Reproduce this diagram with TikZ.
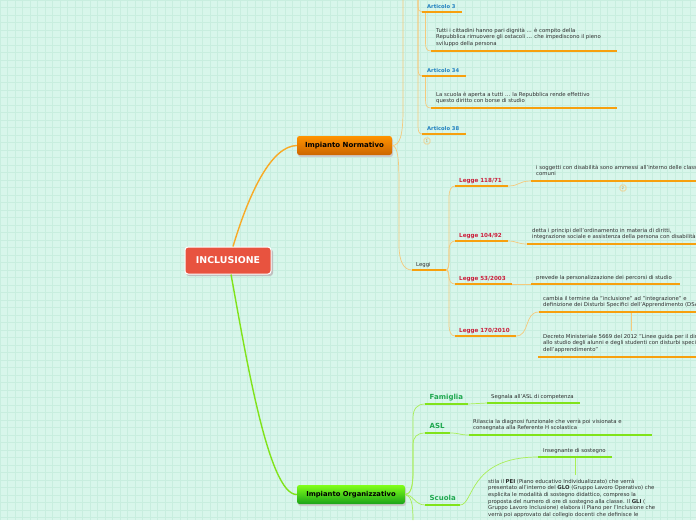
\documentclass[tikz,border=0pt]{standalone}
\usepackage{fontspec}
\setmainfont{DejaVu Sans}
\begin{document}
\begin{tikzpicture}[x=1pt,y=-1pt,
  txt/.style={inner sep=0pt,font=\fontsize{5.35}{6.6}\selectfont,text=black!82,align=left},
  art/.style={inner sep=0pt,font=\fontsize{5.2}{5}\selectfont\bfseries,text=artblue,anchor=base west},
  leg/.style={inner sep=0pt,font=\fontsize{5.6}{5}\selectfont\bfseries,text=legred,anchor=base west},
  org/.style={inner sep=0pt,font=\fontsize{7}{7}\selectfont\bfseries,text=orggreen,anchor=base west},
  uo/.style={line width=2pt,draw=uline},
  ug/.style={line width=2pt,draw=gline},
  co/.style={line width=0.7pt,draw=oconn},
  cg/.style={line width=0.7pt,draw=gconn},
  badge/.style={draw=oconn,line width=0.6pt,rounded corners=1.5pt,minimum width=6pt,minimum height=6pt,inner sep=0pt,font=\fontsize{4}{4}\selectfont,text=oconn!80!black}
]
\definecolor{bgc}{HTML}{D8F6EB}
\definecolor{gridc}{HTML}{C8EEDF}
\definecolor{artblue}{HTML}{1F7FC0}
\definecolor{legred}{HTML}{CC1F3C}
\definecolor{orggreen}{HTML}{1FA84F}
\definecolor{uline}{HTML}{F7A00E}
\definecolor{gline}{HTML}{80E31A}
\definecolor{oconn}{HTML}{F5C97C}
\definecolor{gconn}{HTML}{A8EE55}
\definecolor{redbox}{HTML}{E8533F}
\useasboundingbox (0,0) rectangle (696,520);
\clip (0,0) rectangle (696,520);
\fill[bgc] (0,0) rectangle (696,520);
\foreach \i in {0,7.5,...,696} {\draw[gridc,line width=0.3pt] (\i,0) -- (\i,520);}
\foreach \j in {0,7.5,...,520} {\draw[gridc,line width=0.3pt] (0,\j) -- (696,\j);}

% ---- main boxes
\fill[black!25,rounded corners=3pt] (186,249) rectangle (273,276);
\node[draw=white,line width=1pt,fill=redbox,rounded corners=3pt,minimum width=86pt,minimum height=27pt,inner sep=0pt,text=white,font=\fontsize{9.4}{10}\selectfont\bfseries] (root) at (228,260.5) {INCLUSIONE};

\fill[black!20,rounded corners=2.5pt] (298,138) rectangle (393,157);
\node[rounded corners=2.5pt,top color=orange!85!yellow,bottom color=orange!80!black,minimum width=95pt,minimum height=19pt,inner sep=0pt,font=\fontsize{7}{7}\selectfont\bfseries] (norm) at (344.5,145.5) {Impianto Normativo};

\fill[black!20,rounded corners=2.5pt] (298,487) rectangle (406,506);
\node[rounded corners=2.5pt,top color=green!55!yellow!90!white,bottom color=green!60!black!90,minimum width=108pt,minimum height=19pt,inner sep=0pt,font=\fontsize{6.8}{7}\selectfont\bfseries] (orgz) at (351,494.5) {Impianto Organizzativo};

\draw[line width=1.4pt,draw=uline!90] (root.north) ++(5,0) coordinate (rt) .. controls (250,190) and (272,146) .. (norm.west);
\draw[line width=1.4pt,draw=gline] (root.south) ++(3,0) coordinate (rb) .. controls (245,350) and (268,495) .. (orgz.west);

% ---- Normativo subtree
\coordinate (nE) at (norm.east);
\coordinate (topA) at (403,0);
\coordinate (topB) at (418,0);
\draw[co] (nE) .. controls (400,145.5) and (403,135) .. (403,110) -- (topA);

% Articoli
\coordinate (a3L) at (422,12); \coordinate (a3R) at (462,12);
\coordinate (a34L) at (422,76); \coordinate (a34R) at (466,76);
\coordinate (a38L) at (422,134); \coordinate (a38R) at (466,134);
\draw[co] (topB) -- (418,5) .. controls (418,10) and (419,12) .. (a3L);
\draw[co] (topB) -- (418,68) .. controls (418,73) and (419,76) .. (a34L);
\draw[co] (topB) -- (418,126) .. controls (418,131) and (419,134) .. (a38L);
\node[art] (a3) at (427,8) {Articolo 3};
\node[art] (a34) at (427,72) {Articolo 34};
\node[art] (a38) at (427,130) {Articolo 38};
\draw[uo] (a3L) -- (a3R);
\draw[uo] (a34L) -- (a34R);
\draw[uo] (a38L) -- (a38R);
\node[badge] (b1) at (427,141) {1};

\coordinate (c1L) at (431,51); \coordinate (c1R) at (617,51);
\coordinate (c2L) at (431,108); \coordinate (c2R) at (617,108);
\draw[co] (425.5,13) coordinate (a3d) -- (425.5,43) .. controls (425.5,49) and (427,51) .. (c1L);
\draw[co] (425.5,77) coordinate (a34d) -- (425.5,100) .. controls (425.5,106) and (427,108) .. (c2L);
\node[txt,anchor=north west] (c1) at (436,27.6) {Tutti i cittadini hanno pari dignità ... è compito della\\Repubblica rimuovere gli ostacoli ... che impediscono il pieno\\sviluppo della persona};
\node[txt,anchor=north west] (c2) at (436,91.6) {La scuola è aperta a tutti ... la Repubblica rende effettivo\\questo diritto con borse di studio};
\draw[uo] (c1L) -- (c1R);
\draw[uo] (c2L) -- (c2R);

% Leggi
\coordinate (lgL) at (412,270); \coordinate (lgR) at (446,270);
\draw[co] (nE) .. controls (398,146) and (399,160) .. (399,185) -- (399,245) .. controls (399,262) and (404,270) .. (lgL);
\node[txt,anchor=base west] (leggi) at (416,266) {Leggi};
\draw[uo] (lgL) -- (lgR);

\coordinate (l1L) at (455,186); \coordinate (l1R) at (508,186);
\coordinate (l2L) at (455,241); \coordinate (l2R) at (508,241);
\coordinate (l3L) at (455,284); \coordinate (l3R) at (512,284);
\coordinate (l4L) at (455,336); \coordinate (l4R) at (516,336);
\draw[co] (lgR) .. controls (449,270) and (449,264) .. (449,255) -- (449,198) .. controls (449,190) and (451,186) .. (l1L);
\draw[co] (lgR) .. controls (449,270) and (449,262) .. (449,258) -- (449,250) .. controls (449,245) and (451,241) .. (l2L);
\draw[co] (lgR) .. controls (449,270) and (449,274) .. (449,276) .. controls (449,281) and (451,284) .. (l3L);
\draw[co] (lgR) .. controls (449,270) and (449,278) .. (449,285) -- (449,324) .. controls (449,332) and (451,336) .. (l4L);
\node[leg] (l1) at (459,182.5) {Legge 118/71};
\node[leg] (l2) at (459,237.5) {Legge 104/92};
\node[leg] (l3) at (459,280.5) {Legge 53/2003};
\node[leg] (l4) at (459,332.5) {Legge 170/2010};
\draw[uo] (l1L) -- (l1R);
\draw[uo] (l2L) -- (l2R);
\draw[uo] (l3L) -- (l3R);
\draw[uo] (l4L) -- (l4R);

\coordinate (d1L) at (531,181); \coordinate (d1R) at (700,181);
\coordinate (d2L) at (527,244); \coordinate (d2R) at (700,244);
\coordinate (d3L) at (531,284); \coordinate (d3R) at (680,284);
\coordinate (d4L) at (539,312); \coordinate (d4R) at (700,312);
\coordinate (d5L) at (538,357); \coordinate (d5R) at (700,357);
\draw[co] (l1R) .. controls (520,186) and (518,181) .. (d1L);
\draw[co] (l2R) .. controls (517,241) and (517,244) .. (d2L);
\draw[co] (l3R) -- (d3L);
\draw[co] (l4R) .. controls (530,336) and (524,312) .. (d4L);
\coordinate (d4m) at (631,312); \coordinate (d5t) at (631,331);
\draw[co] (d4m) -- (d5t);
\node[txt,anchor=north west] (t1) at (536,164.8) {i soggetti con disabilità sono ammessi all'interno delle classi\\comuni};
\node[txt,anchor=north west] (t2) at (532,227.8) {detta i principi dell'ordinamento in materia di diritti,\\integrazione sociale e assistenza della persona con disabilità};
\node[txt,anchor=base west] (t3) at (536,279) {prevede la personalizzazione dei percorsi di studio};
\node[txt,anchor=north west] (t4) at (543,295.8) {cambia il termine da "inclusione" ad "integrazione" e\\definizione dei Disturbi Specifici dell'Apprendimento (DSA)};
\node[txt,anchor=north west] (t5) at (543,333.8) {Decreto Ministeriale 5669 del 2012 "Linee guida per il diritto\\allo studio degli alunni e degli studenti con disturbi specifici\\dell'apprendimento"};
\draw[uo] (d1L) -- (d1R);
\draw[uo] (d2L) -- (d2R);
\draw[uo] (d3L) -- (d3R);
\draw[uo] (d4L) -- (d4R);
\draw[uo] (d5L) -- (d5R);
\node[badge] (b2) at (623,188) {2};

% ---- Organizzativo subtree
\coordinate (oE) at (orgz.east);
\coordinate (fL) at (425,404); \coordinate (fR) at (468,404);
\coordinate (aL) at (425,433); \coordinate (aR) at (450,433);
\coordinate (sL) at (425,505); \coordinate (sR) at (460,505);
\coordinate (oDown) at (413,520);
\draw[cg] (oE) .. controls (411,494.5) and (413,485) .. (413,470) -- (413,418) .. controls (413,409) and (417,404) .. (fL);
\draw[cg] (oE) .. controls (411,494.5) and (413,486) .. (413,474) -- (413,445) .. controls (413,437) and (417,433) .. (aL);
\draw[cg] (oE) .. controls (413,494.5) and (415,505) .. (sL);
\draw[cg] (oE) .. controls (411,496) and (413,503) .. (oDown);
\node[org] (fam) at (429.5,399.5) {Famiglia};
\node[org] (asl) at (429.5,428.5) {ASL};
\node[org] (scu) at (429.5,500) {Scuola};
\draw[ug] (fL) -- (fR);
\draw[ug] (aL) -- (aR);
\draw[ug] (sL) -- (sR);

\coordinate (g1L) at (487,403); \coordinate (g1R) at (580,403);
\coordinate (g2L) at (469,435); \coordinate (g2R) at (652,435);
\coordinate (g3L) at (538,457); \coordinate (g3R) at (612,457);
\draw[cg] (fR) .. controls (478,404) and (477,403) .. (g1L);
\draw[cg] (aR) .. controls (460,433) and (459,435) .. (g2L);
\draw[cg] (sR) .. controls (474,505) and (468,457) .. (g3L);
\coordinate (g3m) at (575,457); \coordinate (g4t) at (575,475);
\draw[cg] (g3m) -- (g4t);
\node[txt,anchor=base west] (s1) at (491,398.5) {Segnala all'ASL di competenza};
\node[txt,anchor=north west] (s2) at (473,418.8) {Rilascia la diagnosi funzionale che verrà poi visionata e\\consegnata alla Referente H scolastica};
\node[txt,anchor=base west] (s3) at (543,452) {Insegnante di sostegno};
\node[txt,anchor=north west] (s4) at (488,478.8) {stila il \textbf{PEI} (Piano educativo Individualizzato) che verrà\\presentato all'interno del \textbf{GLO} (Gruppo Lavoro Operativo) che\\esplicita le modalità di sostegno didattico, compreso la\\proposta del numero di ore di sostegno alla classe. Il \textbf{GLI} (\\Gruppo Lavoro Inclusione) elabora il Piano per l'Inclusione che\\verrà poi approvato dal collegio docenti che definisce le};
\draw[ug] (g1L) -- (g1R);
\draw[ug] (g2L) -- (g2R);
\draw[ug] (g3L) -- (g3R);
\end{tikzpicture}
\end{document}
